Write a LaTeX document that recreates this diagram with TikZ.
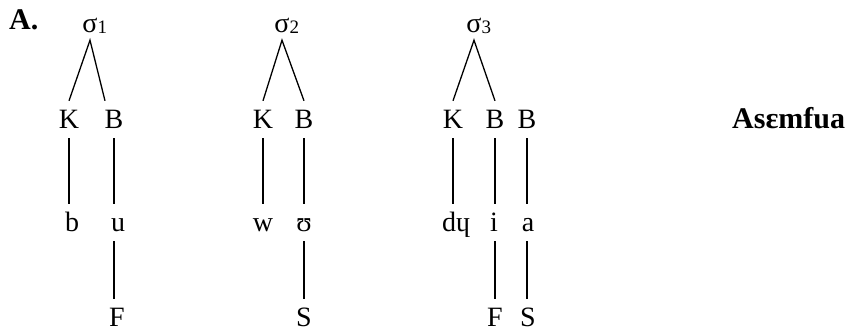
\documentclass[tikz,border=0pt]{standalone}
\usepackage{fontspec}
\setmainfont{Liberation Serif}
\begin{document}
\begin{tikzpicture}[x=1pt,y=-1pt,
  seg/.style={inner sep=0pt,text height=28pt,text depth=9pt,anchor=base,font=\fontsize{28}{32}\selectfont},
  syl/.style={seg,text depth=7pt},
  lbl/.style={inner sep=0pt,anchor=base west,font=\fontsize{30}{32}\selectfont\bfseries},
  ln/.style={line width=1.3pt,black}]
\useasboundingbox (0,0) rectangle (851,336);
\newcommand{\sig}[1]{σ\rlap{\raisebox{-1pt}{\fontsize{19}{19}\selectfont #1}}}
% labels
\node[lbl] (la) at (9,30) {A.};
\node[lbl] (lw) at (732,129) {Asɛmfua};
% tree 1
\node[syl] (s1) at (90,33) {\sig{1}};
\node[seg] (k1) at (69,129) {K};
\node[seg] (b1) at (114,129) {B};
\node[seg] (c1) at (72,232) {b};
\node[seg] (v1) at (118,232) {u};
\node[seg] (t1) at (117,327) {F};
\draw[ln] (k1.north) -- (s1.south) -- ([xshift=-9pt]b1.north);
\draw[ln] (k1.south) -- (k1.south |- c1.north);
\draw[ln] (b1.south) -- (b1.south |- v1.north);
\draw[ln] (b1.south |- v1.south) -- (b1.south |- t1.north);
% tree 2
\node[syl] (s2) at (282,33) {\sig{2}};
\node[seg] (k2) at (263,129) {K};
\node[seg] (b2) at (304,129) {B};
\node[seg] (c2) at (263,232) {w};
\node[seg] (v2) at (304,232) {ʊ};
\node[seg] (t2) at (304,327) {S};
\draw[ln] (k2.north) -- (s2.south) -- (b2.north);
\draw[ln] (k2.south) -- (k2.south |- c2.north);
\draw[ln] (b2.south) -- (b2.south |- v2.north);
\draw[ln] (b2.south |- v2.south) -- (b2.south |- t2.north);
% tree 3
\node[syl] (s3) at (474,33) {\sig{3}};
\node[seg] (k3) at (453,129) {K};
\node[seg] (b3) at (495,129) {B};
\node[seg] (b4) at (527,129) {B};
\node[seg,anchor=base west] (c3) at (442,232) {dɥ};
\node[seg] (v3) at (494,232) {i};
\node[seg] (v4) at (528,232) {a};
\node[seg] (t3) at (495,327) {F};
\node[seg] (t4) at (528,327) {S};
\draw[ln] (k3.north) -- (s3.south) -- (b3.north);
\draw[ln] (k3.south) -- (k3.south |- c3.north);
\draw[ln] (b3.south) -- (b3.south |- v3.north);
\draw[ln] (b4.south) -- (b4.south |- v4.north);
\draw[ln] (b3.south |- v3.south) -- (b3.south |- t3.north);
\draw[ln] (b4.south |- v4.south) -- (b4.south |- t4.north);
\end{tikzpicture}
\end{document}
